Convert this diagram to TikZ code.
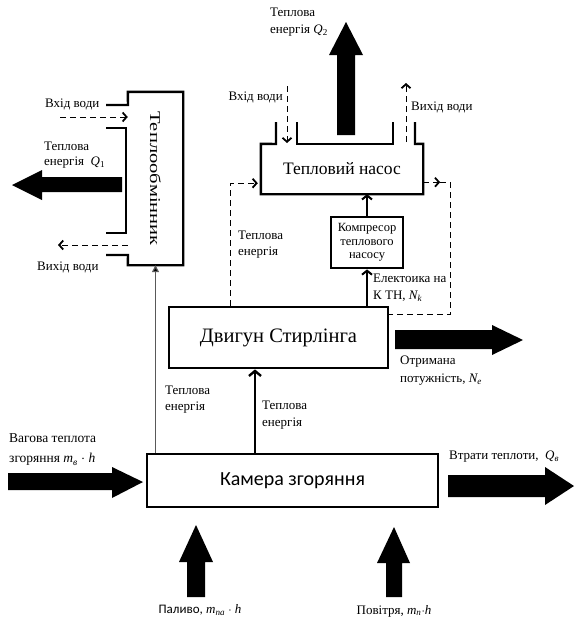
\documentclass[tikz,border=0pt]{standalone}
\usepackage{fontspec}
\usepackage{graphicx}
\setmainfont{Liberation Serif}
\newfontfamily\tms{Liberation Serif}
\newfontfamily\calib{Carlito}
\usetikzlibrary{arrows.meta,calc}
\begin{document}
\begin{tikzpicture}[x=1pt,y=-1pt,
  box/.style={draw,line width=2.8pt,inner sep=0pt},
  outl/.style={line width=2.4pt,line join=miter},
  lbl/.style={font=\tms\fontsize{13}{15}\selectfont,align=left,inner sep=0pt},
  dashline/.style={line width=0.9pt,dash pattern=on 6pt off 4pt,
    -{Straight Barb[length=4pt,width=9pt,line width=1.8pt]}},
  dashplain/.style={line width=0.9pt,dash pattern=on 6pt off 4pt},
  solidarrow/.style={line width=2pt,-{Straight Barb[length=4pt,width=10pt,line width=2pt]}},
  fat/.style={fill=black}
]
\useasboundingbox (0,0) rectangle (574,621);

% ---- boxes ----
\node[box,minimum width=219pt,minimum height=61pt,font=\tms\fontsize{20.5}{22}\selectfont]
  (st) at (278.5,337.5) {Двигун Стирлінга};
\node[box,minimum width=291pt,minimum height=53pt,font=\calib\fontsize{20}{22}\selectfont]
  (kam) at (292.5,480.5) {Камера згоряння};
\node[box,minimum width=72pt,minimum height=51pt,align=center,
  font=\tms\fontsize{12.5}{13.5}\selectfont] (komp) at (367,242.5) {Компресор\\теплового\\насосу};
\node[inner sep=0pt,minimum width=162pt,minimum height=50pt,font=\tms\fontsize{17.5}{19}\selectfont]
  (hp) at (342,169) {Тепловий насос};
\node[inner sep=0pt,minimum width=55pt,minimum height=173pt,font=\tms\fontsize{15}{17}\selectfont]
  (he) at (155.5,178.5) {\rotatebox{-90}{\scalebox{1.37}[1]{Теплообмінник}}};

% heat pump outline
\draw[outl] (276,122) -- (276,144) -- (hp.north west) -- (hp.south west)
  -- (hp.south east) -- (hp.north east) -- (415,144) -- (415,122);
\draw[outl] (297,122) -- (297,144) -- (393,144) -- (393,122);

% heat exchanger outline
\draw[outl] (106,105) -- (128,105) -- (he.north west) -- (he.north east)
  -- (he.south east) -- (he.south west) -- (128,255) -- (106,255);
\draw[outl] (106,128) -- (126,128) -- (126,233) -- (106,233);

% ---- thin connectors ----
\draw[line width=2.8pt,-{Straight Barb[length=5pt,width=12pt,line width=2.4pt]}]
  (kam.north -| 255,0) -- (st.south -| 255,0);
\draw[solidarrow] (komp.south |- st.north) -- (komp.south);
\draw[solidarrow] (komp.north) -- (komp.north |- hp.south);
\draw[gray!70!black,line width=1.2pt,-{Triangle[length=7pt,width=7pt,fill=black]}]
  (kam.north -| he.south) -- (he.south);

% dashed heat lines
\draw[dashline] ($(st.north west)+(63,0)$) |- ($(hp.south west)+(-3,-11)$);
\draw[dashline] ($(hp.south east)+(0,-12)$) -- ($(hp.south east)+(17,-12)$);
\draw[dashplain] ($(hp.south east)+(17,-12)$) -| ($(st.north east)+(61,9)$) -- ($(st.north east)+(0,9)$);

% water dashed arrows
\coordinate (win1) at (287,86);  \coordinate (win1e) at (287,143);
\coordinate (wout1) at (406,142); \coordinate (wout1e) at (406,83);
\coordinate (win2) at (60,117);  \coordinate (wout2e) at (58,245);
\draw[dashline] (win1) -- (win1e);
\draw[dashline] (wout1) -- (wout1e);
\draw[dashline] (win2) -- (he.west |- win2);
\draw[dashline] (he.west |- wout2e) -- (wout2e);

% ---- fat arrows ----
\fill[fat] (337,135) -- (337,55) -- (329,55) -- (346,22) -- (363,55) -- (355,55) -- (355,135) -- cycle;
\fill[fat] (122,177) -- (42,177) -- (42,170) -- (12,185) -- (42,200) -- (42,192) -- (122,192) -- cycle;
\fill[fat] (395,330) -- (492,330) -- (492,325) -- (523,340) -- (492,355) -- (492,349) -- (395,349) -- cycle;
\fill[fat] (448,475) -- (545,475) -- (545,467) -- (574,486) -- (545,505) -- (545,497) -- (448,497) -- cycle;
\fill[fat] (8,473) -- (112,473) -- (112,467) -- (143,482) -- (112,498) -- (112,490) -- (8,490) -- cycle;
\fill[fat] (187,597) -- (187,562) -- (179,562) -- (196,525) -- (213,562) -- (205,562) -- (205,597) -- cycle;
\fill[fat] (386,597) -- (386,563) -- (377,563) -- (394,527) -- (410,563) -- (402,563) -- (402,597) -- cycle;

% ---- labels ----
\node[lbl,anchor=west,font=\tms\fontsize{13}{17}\selectfont] (lq2) at (270,22) {Теплова\\енергія \textit{Q}\textsubscript{2}};
\node[lbl,anchor=east] (lwin1) at (283,97) {Вхід води};
\node[lbl,anchor=west] (lwout1) at (411,107) {Вихід води};
\node[lbl,anchor=west] (lwin2) at (45,104) {Вхід води};
\node[lbl,anchor=west] (lq1) at (44,155) {Теплова\\енергія \ \textit{Q}\textsubscript{1}};
\node[lbl,anchor=west] (lwout2) at (37,267) {Вихід води};
\node[lbl,anchor=west,font=\tms\fontsize{13}{16}\selectfont] (lhl) at (238,245) {Теплова\\енергія};
\node[lbl,anchor=west,font=\tms\fontsize{13}{17}\selectfont] (lel) at (373,288) {Електоика на\\К ТН, \textit{N\textsubscript{k}}};
\node[lbl,anchor=west,font=\tms\fontsize{13}{16}\selectfont] (lgr) at (165,400) {Теплова\\енергія};
\node[lbl,anchor=west,font=\tms\fontsize{13}{17}\selectfont] (lbk) at (262,415) {Теплова\\енергія};
\node[lbl,anchor=west,font=\tms\fontsize{13}{18}\selectfont] (lne) at (400,371) {Отримана\\потужність, \textit{N\textsubscript{e}}};
\node[lbl,anchor=west,font=\tms\fontsize{13.5}{20}\selectfont] (lin) at (9,450) {Вагова теплота\\згоряння \textit{m\textsubscript{в}} $\cdot$ \textit{h}};
\node[lbl,anchor=west] (lloss) at (449,457) {Втрати теплоти, \ \textit{Q\textsubscript{в}}};
\node[lbl,font=\tms\fontsize{13}{15}\selectfont] (lfuel) at (200,610) {{\calib Паливо,} \textit{m\textsubscript{па}} $\cdot$ \textit{h}};
\node[lbl] (lair) at (394,611) {Повітря, \textit{m\textsubscript{п}}$\cdot$\textit{h}};
\end{tikzpicture}
\end{document}
